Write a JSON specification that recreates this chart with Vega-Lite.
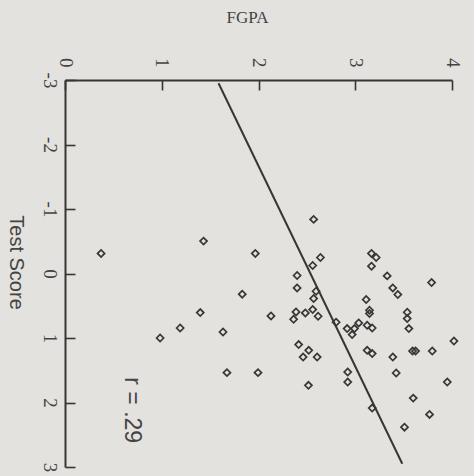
{
  "$schema": "https://vega.github.io/schema/vega-lite/v6.json",
  "width": 387,
  "height": 387,
  "autosize": {"type": "none"},
  "padding": {"left": 65, "top": 80, "right": 22, "bottom": 9},
  "background": "#e3e2de",
  "config": {
    "view": {"stroke": null},
    "axis": {"grid": false, "domainColor": "#3a3535", "domainWidth": 2, "tickColor": "#3a3535", "tickWidth": 1.6, "labelColor": "#444", "titleColor": "#444"}
  },
  "datasets": {
    "points": [
      {"F": 2.570, "T": -0.839}, {"F": 1.432, "T": -0.502}, {"F": 1.967, "T": -0.311}, {"F": 2.640, "T": -0.248},
      {"F": 2.560, "T": -0.124}, {"F": 3.168, "T": -0.311}, {"F": 3.216, "T": -0.248}, {"F": 3.168, "T": -0.113},
      {"F": 2.399, "T": 0.031}, {"F": 3.330, "T": 0.037}, {"F": 3.789, "T": 0.140}, {"F": 2.399, "T": 0.224},
      {"F": 3.388, "T": 0.224}, {"F": 3.440, "T": 0.326}, {"F": 2.595, "T": 0.275}, {"F": 1.832, "T": 0.321},
      {"F": 2.570, "T": 0.388}, {"F": 3.113, "T": 0.404}, {"F": 3.147, "T": 0.570}, {"F": 3.147, "T": 0.621},
      {"F": 1.398, "T": 0.606}, {"F": 2.129, "T": 0.658}, {"F": 2.388, "T": 0.596}, {"F": 2.484, "T": 0.612},
      {"F": 2.560, "T": 0.559}, {"F": 2.616, "T": 0.663}, {"F": 2.363, "T": 0.710}, {"F": 3.537, "T": 0.601},
      {"F": 3.537, "T": 0.699}, {"F": 2.802, "T": 0.756}, {"F": 2.916, "T": 0.854}, {"F": 2.968, "T": 0.947},
      {"F": 2.992, "T": 0.854}, {"F": 3.036, "T": 0.767}, {"F": 3.123, "T": 0.803}, {"F": 3.175, "T": 0.845},
      {"F": 3.554, "T": 0.854}, {"F": 1.190, "T": 0.845}, {"F": 0.983, "T": 1.000}, {"F": 1.633, "T": 0.907},
      {"F": 4.020, "T": 1.047}, {"F": 2.415, "T": 1.102}, {"F": 2.519, "T": 1.191}, {"F": 2.461, "T": 1.295},
      {"F": 2.606, "T": 1.295}, {"F": 3.123, "T": 1.191}, {"F": 3.175, "T": 1.242}, {"F": 3.592, "T": 1.202},
      {"F": 3.623, "T": 1.202}, {"F": 3.796, "T": 1.202}, {"F": 3.388, "T": 1.295}, {"F": 1.674, "T": 1.537},
      {"F": 1.995, "T": 1.537}, {"F": 2.922, "T": 1.528}, {"F": 2.922, "T": 1.683}, {"F": 3.423, "T": 1.543},
      {"F": 3.951, "T": 1.683}, {"F": 2.516, "T": 1.734}, {"F": 3.175, "T": 2.087}, {"F": 3.599, "T": 1.932},
      {"F": 3.768, "T": 2.185}, {"F": 3.509, "T": 2.382}, {"F": 0.373, "T": -0.311}
    ],
    "fit": [{"F": 1.587, "T": -2.95}, {"F": 3.486, "T": 2.95}],
    "note": [{"F": 0.69, "T": 2.12, "label": "r = .29"}]
  },
  "encoding": {
    "x": {
      "field": "F", "type": "quantitative",
      "scale": {"domain": [0, 4], "nice": false, "zero": false},
      "axis": {
        "orient": "top", "values": [0, 1, 2, 3, 4], "title": "FGPA",
        "tickSize": -10, "labelPadding": 23, "labelAngle": 90, "labelAlign": "right", "labelBaseline": "middle",
        "labelFont": "Liberation Serif", "labelFontSize": 19, "labelExpr": "'' + datum.value",
        "titleFont": "Liberation Serif", "titleFontSize": 17, "titleFontWeight": "normal",
        "titleX": 182, "titleY": -58, "titleAlign": "center", "titleBaseline": "alphabetic", "titleAngle": 0
      }
    },
    "y": {
      "field": "T", "type": "quantitative",
      "scale": {"domain": [-3, 3], "nice": false, "zero": false, "reverse": true},
      "axis": {
        "orient": "left", "values": [-3, -2, -1, 0, 1, 2, 3], "title": "Test Score",
        "tickSize": -10, "labelPadding": 26, "labelAngle": 90, "labelAlign": "center", "labelBaseline": "middle",
        "labelFont": "Liberation Serif", "labelFontSize": 19, "labelExpr": "'' + datum.value",
        "titleFont": "Liberation Sans", "titleFontSize": 20, "titleFontWeight": "normal",
        "titleAngle": 90, "titleX": -50, "titleY": 182, "titleAlign": "center", "titleBaseline": "middle"
      }
    }
  },
  "layer": [
    {
      "data": {"name": "fit"},
      "mark": {"type": "line", "color": "#3a3535", "strokeWidth": 2}
    },
    {
      "data": {"name": "points"},
      "mark": {"type": "point", "shape": "diamond", "filled": false, "size": 50, "strokeWidth": 1.7, "color": "#3a3535", "opacity": 1}
    },
    {
      "data": {"name": "note"},
      "mark": {"type": "text", "angle": 90, "font": "Liberation Sans", "fontSize": 23, "color": "#444", "align": "center", "baseline": "middle"},
      "encoding": {"text": {"field": "label", "type": "nominal"}}
    }
  ]
}
